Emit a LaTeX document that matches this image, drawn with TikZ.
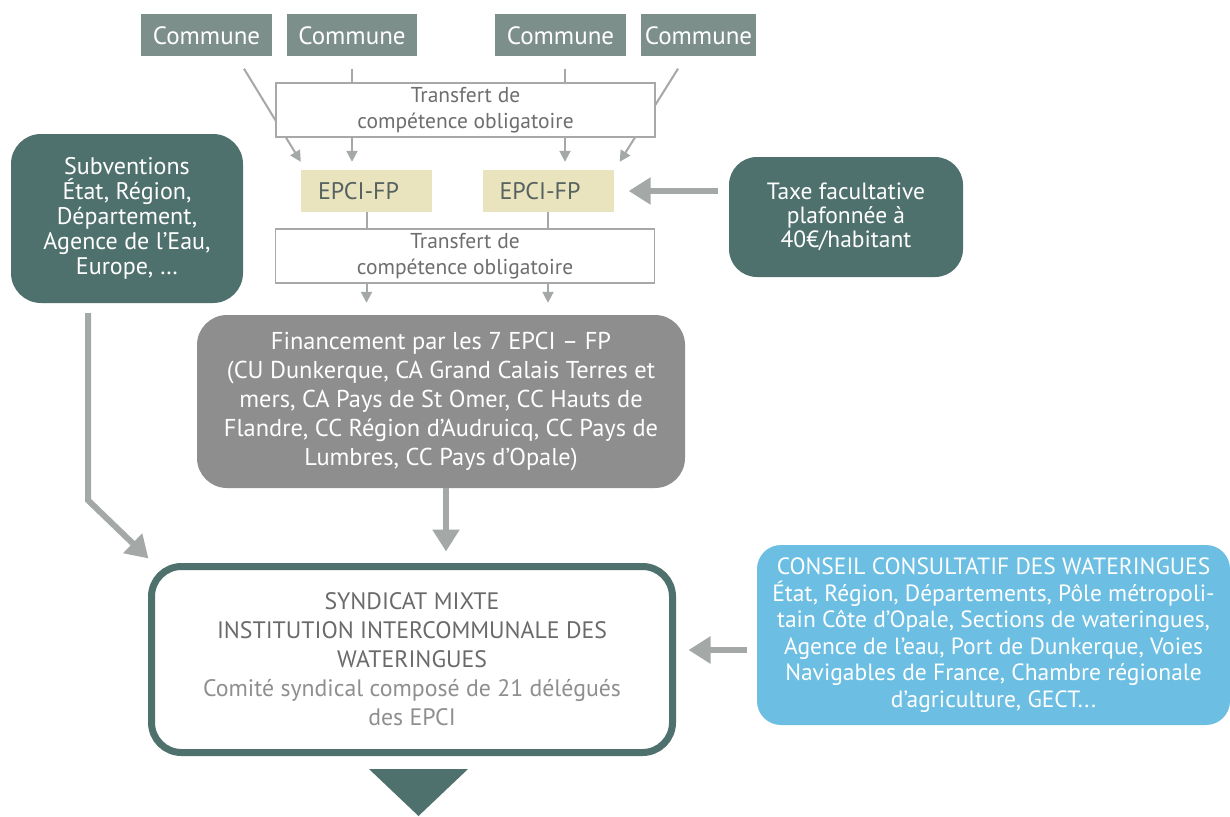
\documentclass[tikz,border=0pt]{standalone}
\usepackage{fontspec}
\setmainfont{PT Sans}
\usetikzlibrary{arrows.meta}
\definecolor{commg}{HTML}{7D8F8B}
\definecolor{tealdk}{HTML}{4F716D}
\definecolor{epcif}{HTML}{E9E3BE}
\definecolor{epcit}{HTML}{55625F}
\definecolor{fing}{HTML}{8E8E8E}
\definecolor{consb}{HTML}{6CBFE3}
\definecolor{arrc}{HTML}{A4A9A7}
\definecolor{trb}{HTML}{A8A8A8}
\definecolor{trt}{HTML}{6E6E6E}
\definecolor{synt}{HTML}{6A6A6A}
\definecolor{synl}{HTML}{8F8F8F}
\begin{document}
\begin{tikzpicture}[x=1pt,y=-1pt,
  communebox/.style={fill=commg,text=white,minimum height=42pt,inner sep=0pt,font=\fontsize{25}{28}\selectfont},
  epcibox/.style={fill=epcif,text=epcit,minimum height=42pt,inner xsep=17pt,inner ysep=0pt,text width=97pt,align=left,font=\fontsize{24}{27}\selectfont},
  transbox/.style={draw=trb,line width=1.5pt,fill=white,text=trt,minimum width=379pt,minimum height=54pt,inner sep=0pt,align=center,font=\fontsize{21.5}{26}\selectfont},
  roundbox/.style={rounded corners=30pt,inner sep=0pt,align=center},
  thinarr/.style={draw=arrc,line width=2pt,-{Triangle[width=11pt,length=11pt]}},
  thickarr/.style={draw=arrc,line width=6pt,-{Triangle[width=26pt,length=22pt]}}
]
\useasboundingbox (0,0) rectangle (1230,816);
\fill[white] (0,0) rectangle (1230,816);

% Communes
\node[communebox,minimum width=131pt] (c1) at (206.5,35.5) {Commune};
\node[communebox,minimum width=130pt] (c2) at (352,35.5) {Commune};
\node[communebox,minimum width=131pt] (c3) at (560.5,35.5) {Commune};
\node[communebox,minimum width=115pt] (c4) at (698.5,35.5) {Commune};

% EPCI
\node[epcibox] (e1) at (366.5,191) {EPCI-FP};
\node[epcibox] (e2) at (548,191) {EPCI-FP};

% side boxes
\node[roundbox,fill=tealdk,text=white,minimum width=232pt,minimum height=169pt,font=\fontsize{24}{25}\selectfont] (sub) at (127,218.5)
  {Subventions\\État, Région,\\Département,\\Agence de l’Eau,\\Europe, …};
\node[roundbox,rounded corners=28pt,fill=tealdk,text=white,minimum width=234pt,minimum height=120pt,font=\fontsize{23.5}{24}\selectfont] (taxe) at (846,217)
  {Taxe facultative\\plafonnée à\\40€/habitant};

% Financement
\node[roundbox,fill=fing,text=white,minimum width=488pt,minimum height=173pt,font=\fontsize{24.4}{29.2}\selectfont] (fin) at (441,401.5)
  {Financement par les 7 EPCI – FP\\(CU Dunkerque, CA Grand Calais Terres et\\mers, CA Pays de St Omer, CC Hauts de\\Flandre, CC Région d’Audruicq, CC Pays de\\Lumbres, CC Pays d’Opale)};

% Syndicat
\node[roundbox,draw=tealdk,line width=7pt,fill=white,minimum width=521pt,minimum height=186pt,font=\fontsize{23.8}{29}\selectfont] (syn) at (412,659.5)
  {\textcolor{synt}{SYNDICAT MIXTE}\\\textcolor{synt}{INSTITUTION INTERCOMMUNALE DES}\\\textcolor{synt}{WATERINGUES}\\\textcolor{synl}{Comité syndical composé de 21 délégués}\\\textcolor{synl}{des EPCI}};

% Conseil
\node[roundbox,rounded corners=24pt,fill=consb,text=white,minimum width=473pt,minimum height=180pt,font=\fontsize{23.5}{26.5}\selectfont] (cons) at (993.5,635)
  {CONSEIL CONSULTATIF DES WATERINGUES\\État, Région, Départements, Pôle métropoli-\\tain Côte d’Opale, Sections de wateringues,\\Agence de l’eau, Port de Dunkerque, Voies\\Navigables de France, Chambre régionale\\d’agriculture, GECT...};

% thin arrows commune -> EPCI
\draw[thinarr] ([xshift=37.5pt,yshift=-12pt]c1.south) -- ([yshift=8pt]e1.north west);
\draw[thinarr,shorten <=12pt,shorten >=8pt] (c2.south) -- (c2.south |- e1.north);
\draw[thinarr,shorten <=12pt,shorten >=8pt] ([xshift=4.5pt]c3.south) -- ([xshift=4.5pt]c3.south |- e2.north);
\draw[thinarr] ([xshift=-20.5pt,yshift=-12pt]c4.south) -- ([xshift=6pt,yshift=8pt]e2.north east);

% thin arrows EPCI -> financement
\draw[thinarr,shorten >=12pt] (e1.south) -- (e1.south |- fin.north);
\draw[thinarr,shorten >=12pt] (e2.south) -- (e2.south |- fin.north);

% transfert boxes (over the lines)
\node[transbox] (t1) at (465.5,110) {Transfert de\\compétence obligatoire};
\node[transbox] (t2) at (465,256) {Transfert de\\compétence obligatoire};

% thick arrows
\draw[thickarr,shorten <=11pt,shorten >=15pt] (taxe.west |- e2.east) -- (e2.east);
\draw[thickarr,shorten >=11.5pt] ([xshift=5pt]fin.south) -- ([xshift=5pt]fin.south |- syn.north);
\path ([yshift=9.5pt]syn.east) coordinate (se);
\draw[thickarr,shorten <=10pt,shorten >=12.5pt] (cons.west |- se) -- (se);
\draw[thickarr] ([xshift=-39pt,yshift=-10pt]sub.south) -- ++(0,187) -- ([xshift=0.5pt,yshift=4.5pt]syn.north west);

% bottom triangle
\fill[tealdk] (369,769) -- (468,769) -- (418.5,816) -- cycle;
\end{tikzpicture}
\end{document}
